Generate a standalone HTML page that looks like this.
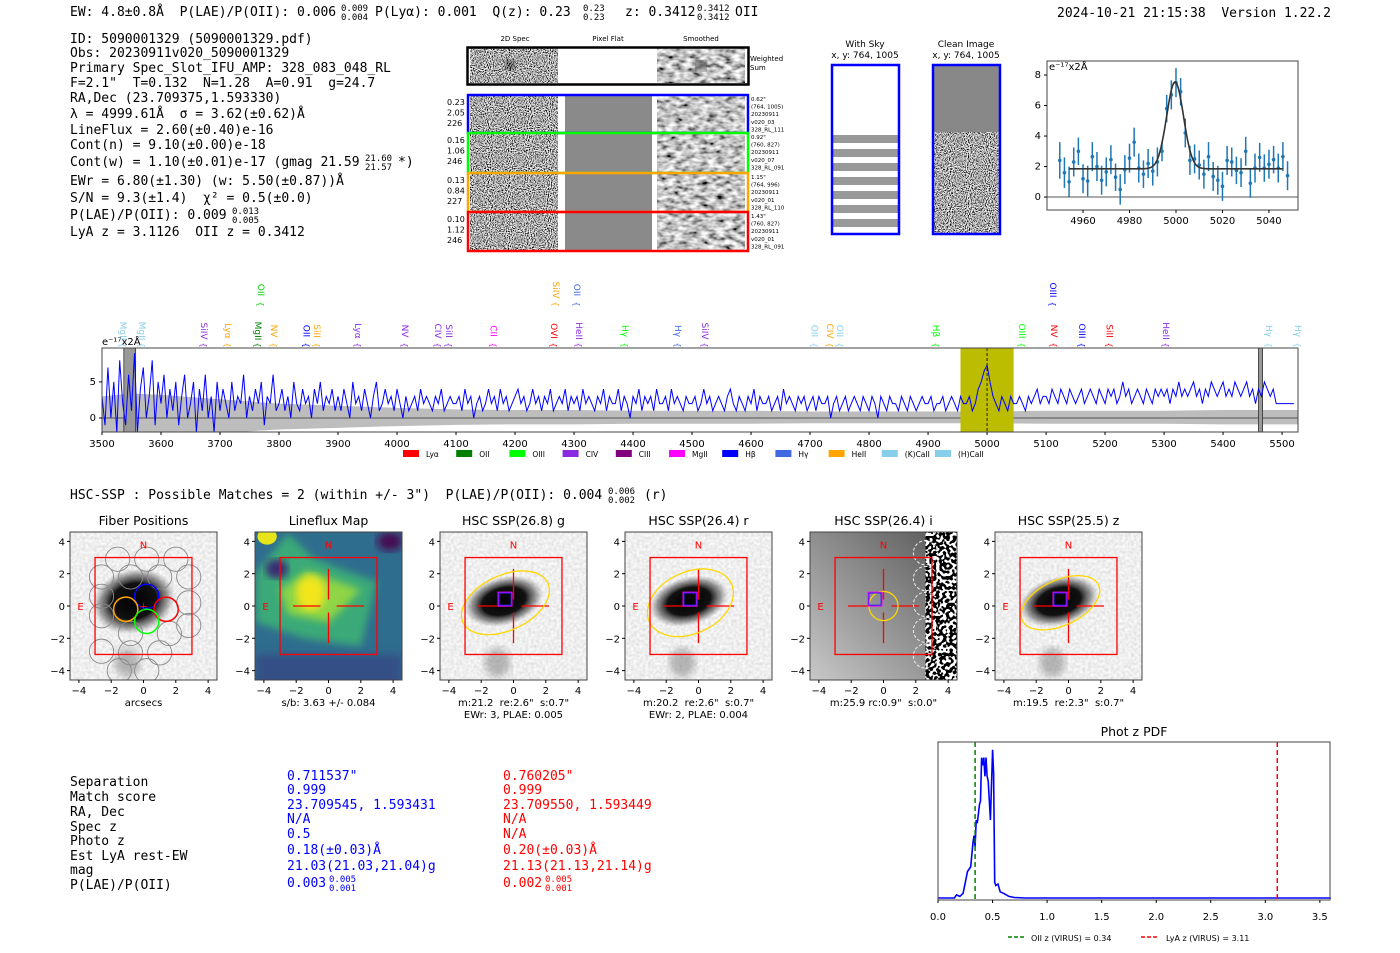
<!DOCTYPE html>
<html><head><meta charset="utf-8"><style>
html,body{margin:0;padding:0;background:#fff;width:1400px;height:953px;overflow:hidden}
svg{display:block}
text{white-space:pre}
.m{font-family:"DejaVu Sans Mono","Liberation Mono",monospace;font-size:13px;fill:#000}
.s{font-family:"DejaVu Sans","Liberation Sans",sans-serif}
.t{font-family:"DejaVu Sans","Liberation Sans",sans-serif;font-size:10px;fill:#000}
</style></head><body>
<svg id="page" width="1400" height="953" viewBox="0 0 1400 953" xmlns="http://www.w3.org/2000/svg" xml:space="preserve">
<defs>
<filter id="nz" x="0" y="0" width="1" height="1"><feTurbulence type="fractalNoise" baseFrequency="0.95" numOctaves="1" seed="3"/><feColorMatrix type="matrix" values="3.2 0 0 0 -1.15 3.2 0 0 0 -1.15 3.2 0 0 0 -1.15 0 0 0 0 1"/></filter>
<filter id="sm" x="0" y="0" width="1" height="1"><feTurbulence type="fractalNoise" baseFrequency="0.12 0.22" numOctaves="2" seed="7"/><feColorMatrix type="matrix" values="1.8 0 0 0 -0.35 1.8 0 0 0 -0.35 1.8 0 0 0 -0.35 0 0 0 0 1"/></filter>
<filter id="lt" x="0" y="0" width="1" height="1"><feTurbulence type="fractalNoise" baseFrequency="0.35" numOctaves="1" seed="5"/><feColorMatrix type="matrix" values="0.4 0 0 0 0.66 0.4 0 0 0 0.66 0.4 0 0 0 0.66 0 0 0 0 1"/></filter>
<filter id="bw" x="0" y="0" width="1" height="1"><feTurbulence type="fractalNoise" baseFrequency="0.3" numOctaves="1" seed="9"/><feColorMatrix type="matrix" values="20 0 0 0 -10 20 0 0 0 -10 20 0 0 0 -10 0 0 0 0 1"/></filter>
<filter id="bl"><feGaussianBlur stdDeviation="4"/></filter>
<radialGradient id="gal"><stop offset="0" stop-color="#000"/><stop offset="0.55" stop-color="#111"/><stop offset="0.8" stop-color="#555" stop-opacity="0.6"/><stop offset="1" stop-color="#888" stop-opacity="0"/></radialGradient>
<linearGradient id="igr" x1="0" y1="1" x2="1" y2="0"><stop offset="0" stop-color="#c8c8c8"/><stop offset="1" stop-color="#555"/></linearGradient>
</defs>

<g class="m">
<text x="70" y="16">EW: 4.8±0.8Å  P(LAE)/P(OII): 0.006</text>
<text x="341" y="11" font-size="9">0.009</text><text x="341" y="20" font-size="9">0.004</text>
<text x="375" y="16">P(Lyα): 0.001  Q(z): 0.23</text>
<text x="583" y="11" font-size="9">0.23</text><text x="583" y="20" font-size="9">0.23</text>
<text x="625" y="16">z: 0.3412</text>
<text x="697" y="11" font-size="9">0.3412</text><text x="697" y="20" font-size="9">0.3412</text>
<text x="735" y="16">OII</text>
</g>
<text class="m" x="1057" y="17">2024-10-21 21:15:38  Version 1.22.2</text>

<g class="m">
<text x="70" y="43">ID: 5090001329 (5090001329.pdf)</text>
<text x="70" y="57">Obs: 20230911v020_5090001329</text>
<text x="70" y="72">Primary Spec_Slot_IFU_AMP: 328_083_048_RL</text>
<text x="70" y="87">F=2.1"  T=0.132  N=1.28  A=0.91  g=24.7</text>
<text x="70" y="102">RA,Dec (23.709375,1.593330)</text>
<text x="70" y="118">λ = 4999.61Å  σ = 3.62(±0.62)Å</text>
<text x="70" y="134">LineFlux = 2.60(±0.40)e-16</text>
<text x="70" y="149">Cont(n) = 9.10(±0.00)e-18</text>
<text x="70" y="166">Cont(w) = 1.10(±0.01)e-17 (gmag 21.59</text>
<text x="365" y="161" font-size="9">21.60</text><text x="365" y="170" font-size="9">21.57</text>
<text x="398" y="166">*)</text>
<text x="70" y="185">EWr = 6.80(±1.30) (w: 5.50(±0.87))Å</text>
<text x="70" y="202">S/N = 9.3(±1.4)  χ² = 0.5(±0.0)</text>
<text x="70" y="219">P(LAE)/P(OII): 0.009</text>
<text x="232" y="214" font-size="9">0.013</text><text x="232" y="223" font-size="9">0.005</text>
<text x="70" y="236">LyA z = 3.1126  OII z = 0.3412</text>
</g>

<g>
<text class="s" font-size="7" x="515" y="41" text-anchor="middle">2D Spec</text>
<text class="s" font-size="7" x="608" y="41" text-anchor="middle">Pixel Flat</text>
<text class="s" font-size="7" x="701" y="41" text-anchor="middle">Smoothed</text>
<rect x="470" y="48" width="88" height="35" filter="url(#nz)"/>
<circle cx="510" cy="65" r="5" fill="#000" opacity="0.7" filter="url(#bl)"/>
<rect x="558" y="48" width="99" height="35" fill="#fff"/>
<rect x="657" y="48" width="88" height="35" filter="url(#sm)"/>
<circle cx="701" cy="66" r="5" fill="#000" opacity="0.8" filter="url(#bl)"/>
<rect x="467.5" y="47.5" width="281" height="37" fill="none" stroke="#000" stroke-width="2.5"/>
<text class="s" font-size="7" x="750" y="61">Weighted</text><text class="s" font-size="7" x="750" y="70">Sum</text>
</g>
<g id="fibrows"></g>

<g>
<text class="s" font-size="9" x="865" y="47" text-anchor="middle">With Sky</text>
<text class="s" font-size="9" x="865" y="58" text-anchor="middle">x, y: 764, 1005</text>
<rect x="832" y="65" width="67" height="169" fill="#fff"/>
<g id="skystripes"></g>
<rect x="832" y="65" width="67" height="169" fill="none" stroke="#00f" stroke-width="2.5"/>
</g>
<g>
<text class="s" font-size="9" x="966" y="47" text-anchor="middle">Clean Image</text>
<text class="s" font-size="9" x="966" y="58" text-anchor="middle">x, y: 764, 1005</text>
<rect x="933" y="65" width="67" height="67" fill="#888"/>
<rect x="933" y="132" width="67" height="102" filter="url(#nz)"/>
<rect x="933" y="65" width="67" height="169" fill="none" stroke="#00f" stroke-width="2.5"/>
</g>

<g id="fitplot"></g>
<g id="spec"></g>

<g class="m">
<text x="70" y="499">HSC-SSP : Possible Matches = 2 (within +/- 3")  P(LAE)/P(OII): 0.004</text>
<text x="608" y="494" style="font-size:9px">0.006</text><text x="608" y="503" style="font-size:9px">0.002</text>
<text x="644" y="499">(r)</text>
</g>

<g id="cutouts"></g>

<g class="m">
<text x="70" y="786">Separation</text><text x="70" y="801">Match score</text><text x="70" y="816">RA, Dec</text><text x="70" y="831">Spec z</text><text x="70" y="845">Photo z</text><text x="70" y="860">Est LyA rest-EW</text><text x="70" y="874">mag</text><text x="70" y="889">P(LAE)/P(OII)</text>
</g>
<g class="m">
<text x="287" y="780" fill="#00f">0.711537"</text><text x="287" y="794" fill="#00f">0.999</text><text x="287" y="809" fill="#00f">23.709545, 1.593431</text><text x="287" y="823" fill="#00f">N/A</text><text x="287" y="838" fill="#00f">0.5</text><text x="287" y="854" fill="#00f">0.18(±0.03)Å</text><text x="287" y="870" fill="#00f">21.03(21.03,21.04)g</text><text x="287" y="887" fill="#00f">0.003</text><text x="329" y="882" font-size="9" fill="#00f">0.005</text><text x="329" y="891" font-size="9" fill="#00f">0.001</text>
</g>
<g class="m">
<text x="503" y="780" fill="#f00">0.760205"</text><text x="503" y="794" fill="#f00">0.999</text><text x="503" y="809" fill="#f00">23.709550, 1.593449</text><text x="503" y="823" fill="#f00">N/A</text><text x="503" y="838" fill="#f00">N/A</text><text x="503" y="854" fill="#f00">0.20(±0.03)Å</text><text x="503" y="870" fill="#f00">21.13(21.13,21.14)g</text><text x="503" y="887" fill="#f00">0.002</text><text x="545" y="882" font-size="9" fill="#f00">0.005</text><text x="545" y="891" font-size="9" fill="#f00">0.001</text>
</g>

<g id="pdf"></g>
</svg>
<script>
const fitWave = [4950,4952,4954,4956,4958,4960,4962,4964,4966,4968,4970,4972,4974,4976,4978,4980,4982,4984,4986,4988,4990,4992,4994,4996,4998,5000,5002,5004,5006,5008,5010,5012,5014,5016,5018,5020,5022,5024,5026,5028,5030,5032,5034,5036,5038,5040,5042,5044,5046,5048];
const fitFlux = [2.4,1.6,1.0,2.3,3.0,1.2,1.05,2.65,2.0,1.1,1.65,2.45,1.3,0.5,1.8,2.55,3.6,1.9,1.5,2.2,1.7,2.3,3.0,5.8,6.7,7.5,6.9,4.2,2.4,2.5,2.1,1.5,2.65,1.35,1.1,0.7,2.4,2.3,1.75,1.6,3.0,0.9,1.9,2.6,1.9,2.15,2.45,1.9,2.65,1.4];
const fitErr = [1.2,1.0,1.0,0.95,0.9,0.95,1.0,0.95,0.95,0.95,0.95,0.95,0.9,1.0,0.95,0.95,0.95,0.95,0.9,0.95,0.95,0.95,0.65,0.9,0.95,0.95,0.9,0.95,0.95,0.95,0.95,0.95,0.95,0.95,0.95,0.95,0.95,0.95,0.9,0.95,0.95,0.95,0.95,0.95,0.9,0.95,0.9,0.95,0.95,0.95];
const fitModel = {center:4999.61, sigma:3.62, amp:5.7, cont:1.85, from:4954, to:5046};
const fitXTicks = [4960,4980,5000,5020,5040];
const fitYTicks = [0,2,4,6,8];

const specStart = 3500, specStep = 5;
const specFlux = [3,-1,7,0,5,-2,8,2,-1,6,1,9,-2,4,7,0,3,8,-1,5,
2,6,0,4,1,5,-1,3,6,0,2,5,-2,4,1,6,0,3,-2,5,
1,4,2,0,5,1,3,2,6,0,3,1,4,2,5,-1,3,2,6,1,
2,4,1,3,0,5,2,1,4,2,3,0,4,2,5,1,3,2,4,1,
3,1,4,2,0,5,2,3,1,4,2,0,3,5,1,2,4,2,3,1,
4,2,0,3,1,2,3,1,4,2,3,2,1,3,2,4,1,2,3,2,
2,3,1,4,2,3,0,2,3,1,2,4,2,3,1,4,2,3,1,2,
3,4,2,3,1,2,4,2,3,1,3,2,4,1,2,3,2,4,1,3,
2,3,1,4,2,3,2,1,3,2,4,1,3,2,2,4,1,3,2,0,
3,2,4,1,3,2,3,1,4,2,2,3,1,4,2,3,2,1,3,2,
2,3,1,2,4,2,3,1,2,3,2,1,3,4,2,1,3,2,1,3,
2,4,1,3,2,2,3,1,2,3,1,4,2,3,2,1,3,2,3,1,
2,3,1,3,2,2,3,0,2,3,1,2,3,1,2,3,2,1,3,2,
1,3,2,0,3,2,1,3,2,2,1,3,2,1,3,2,1,2,3,2,
2,3,1,2,2,3,1,2,3,2,1,3,2,2,3,1,2,4,5,6.5,
7.3,5,3,2,1,3,2,1,3,2,2,3,2,1,3,2,3,4,2,3,
3,2,4,3,2,4,3,2,4,3,2,3,4,2,3,4,3,2,4,3,
2,4,3,4,2,3,5,3,4,2,3,4,3,2,4,3,2,4,3,4,
3,4,2,4,3,5,3,4,3,4,5,3,4,2,4,3,5,4,3,4,
5,3,4,3,5,4,3,4,5,3,4,2,4,3,5,4,3,4,2,2,
2,2,2,2,2];
const bandWave = [3500,3550,3600,3700,3800,3900,4000,4100,4200,4300,4400,4500,4600,4700,4800,4900,5000,5100,5200,5300,5400,5500,5527];
const bandHi = [3.0,3.4,3.2,2.6,2.0,1.7,1.4,1.2,1.1,1.1,1.0,1.0,1.0,0.9,0.9,0.9,0.9,1.0,1.0,1.0,1.1,1.1,1.1];
const specXTicks = [3500,3600,3700,3800,3900,4000,4100,4200,4300,4400,4500,4600,4700,4800,4900,5000,5100,5200,5300,5400,5500];
const specYTicks = [0,5];
const lineWave = [3525,3558,3663,3703,3754,3781,3836,3854,3924,4003,4059,4078,4153,4256,4298,4376,4466,4512,4697,4724,4741,4903,5049,5103,5151,5197,5293,5468,5517,3759,4259,4295,5102];
const lineName = ['MgII','MgII','SiIV','Lyα','MgII','NV','OII','SiII','Lyα','NV','CIV','SiII','CII','OVI','HeII','Hγ','Hγ','SiIV','OII','CIV','OII','Hβ','OIII','NV','OIII','SiII','HeII','Hγ','Hγ','OII','SiIV','OII','OIII'];
const lineColor = ['#87ceeb','#87ceeb','#8a2be2','#ffa500','#008000','#ffa500','#0000ff','#ffa500','#8a2be2','#8a2be2','#8a2be2','#8a2be2','#ff00ff','#ff0000','#8a2be2','#00ff00','#4169e1','#8a2be2','#87ceeb','#ffa500','#87ceeb','#00ff00','#00ff00','#ff0000','#0000ff','#ff0000','#8a2be2','#87ceeb','#87ceeb','#00cc00','#ffa500','#4169e1','#0000ff'];
const lineRow = [0,0,0,0,0,0,0,0,0,0,0,0,0,0,0,0,0,0,0,0,0,0,0,0,0,0,0,0,0,1,1,1,1];
const legName = ['Lyα','OII','OIII','CIV','CIII','MgII','Hβ','Hγ','HeII','(K)CaII','(H)CaII'];
const legColor = ['#ff0000','#008000','#00ff00','#8a2be2','#800080','#ff00ff','#0000ff','#4169e1','#ffa500','#87ceeb','#87ceeb'];

const pdfZ = [0,0.15,0.17,0.2,0.23,0.25,0.27,0.3,0.32,0.33,0.34,0.35,0.36,0.38,0.39,0.4,0.41,0.42,0.43,0.44,0.45,0.46,0.48,0.5,0.51,0.52,0.53,0.55,0.57,0.6,0.65,0.7,0.8,3.6];
const pdfP = [0,0,0.02,0.01,0.03,0.1,0.17,0.2,0.35,0.4,0.33,0.5,0.48,0.6,0.62,0.9,0.85,0.9,0.78,0.9,0.78,0.75,0.5,0.95,0.8,0.1,0.08,0.09,0.04,0.03,0.01,0.003,0,0];
const pdfXTicks = [0.0,0.5,1.0,1.5,2.0,2.5,3.0,3.5];
const pdfLines = [0.34,3.11];

const cutTitle = ['Fiber Positions','Lineflux Map','HSC SSP(26.8) g','HSC SSP(26.4) r','HSC SSP(26.4) i','HSC SSP(25.5) z'];
const cutLabel1 = ['arcsecs','s/b: 3.63 +/- 0.084','m:21.2  re:2.6"  s:0.7"','m:20.2  re:2.6"  s:0.7"','m:25.9 rc:0.9"  s:0.0"','m:19.5  re:2.3"  s:0.7"'];
const cutLabel2 = ['','','EWr: 3, PLAE: 0.005','EWr: 2, PLAE: 0.004','',''];
const cutTicks = [-4,-2,0,2,4];

const NS='http://www.w3.org/2000/svg';
function mk(tag, attrs, parent){const e=document.createElementNS(NS,tag);for(const k in attrs)e.setAttribute(k,attrs[k]);parent.appendChild(e);return e;}
function txt(s, attrs, parent){const e=mk('text',attrs,parent);e.textContent=s;return e;}

(function(){
  const g=document.getElementById('fibrows');
  const tops=[95,133,173,212], hs=[38,40,39,39], cols=['#0000ff','#00ff00','#ffa500','#ff0000'];
  const L=[['0.23','2.05','226'],['0.16','1.06','246'],['0.13','0.84','227'],['0.10','1.12','246']];
  const R=[['0.62"','(764, 1005)','20230911','v020_03','328_RL_111'],['0.92"','(760, 827)','20230911','v020_07','328_RL_091'],['1.15"','(764, 996)','20230911','v020_01','328_RL_110'],['1.43"','(760, 827)','20230911','v020_01','328_RL_091']];
  for(let i=0;i<4;i++){
    const y=tops[i],h=hs[i];
    const row=mk('g',{},g);
    
    
    mk('rect',{x:470,y:y+1,width:88,height:h-2,filter:'url(#nz)'},row);
    mk('rect',{x:565,y:y+1,width:87,height:h-2,fill:'#8a8a8a'},row);
    mk('rect',{x:657,y:y+1,width:88,height:h-2,filter:'url(#sm)'},row);
    mk('rect',{x:468,y:y,width:280,height:h,fill:'none',stroke:cols[i],'stroke-width':2.5},row);
    L[i].forEach((s,j)=>txt(s,{x:447,y:y+10+j*10.5,'font-size':8,class:'s'},row));
    R[i].forEach((s,j)=>txt(s,{x:751,y:y+6+j*7.6,'font-size':5.5,class:'s'},row));
  }
  const sk=document.getElementById('skystripes');
  for(let k=0;k<7;k++){
    const st=mk('rect',{x:833,y:135+k*14,width:65,height:8,fill:'#777',opacity:0.75},sk);
    
    
  }
})();

(function(){
  const g=document.getElementById('fitplot');
  const X0=1047,X1=1298,Y0=61,Y1=210, xmin=4944.5,xmax=5052.5,ymin=-0.85,ymax=8.92;
  const sx=v=>X0+(v-xmin)/(xmax-xmin)*(X1-X0), sy=v=>Y1-(v-ymin)/(ymax-ymin)*(Y1-Y0);
  mk('line',{x1:X0,x2:X1,y1:sy(0),y2:sy(0),stroke:'#555','stroke-width':1},g);
  fitWave.forEach((w,i)=>{
    const eb=mk('line',{x1:sx(w),x2:sx(w),y1:sy(fitFlux[i]-fitErr[i]),y2:sy(fitFlux[i]+fitErr[i]),stroke:'#1f77b4','stroke-width':1.5},g);
    
    
    const p=mk('circle',{cx:sx(w),cy:sy(fitFlux[i]),r:1.8,fill:'#1f77b4'},g);
    
    
  });
  let d='';
  for(let w=fitModel.from;w<=fitModel.to;w+=0.5){const v=fitModel.cont+fitModel.amp*Math.exp(-0.5*Math.pow((w-fitModel.center)/fitModel.sigma,2));d+=(d?'L':'M')+sx(w).toFixed(1)+','+sy(v).toFixed(1);}
  const m=mk('path',{d:d,fill:'none',stroke:'#333','stroke-width':1.6},g);
  
  
  mk('rect',{x:X0,y:Y0,width:X1-X0,height:Y1-Y0,fill:'none',stroke:'#444','stroke-width':1},g);
  fitXTicks.forEach(t=>{mk('line',{x1:sx(t),x2:sx(t),y1:Y1,y2:Y1+3,stroke:'#000'},g);txt(t,{x:sx(t),y:Y1+14,'text-anchor':'middle',class:'t','font-size':9},g);});
  fitYTicks.forEach(t=>{mk('line',{x1:X0-3,x2:X0,y1:sy(t),y2:sy(t),stroke:'#000'},g);txt(t,{x:X0-6,y:sy(t)+3,'text-anchor':'end',class:'t','font-size':9},g);});
  txt('e⁻¹⁷x2Å',{x:X0+2,y:Y0+9,class:'t','font-size':9},g);
})();

(function(){
  const g=document.getElementById('spec');
  const X0=102,X1=1298,Y0=348,Y1=432,xmin=3500,xmax=5527,ymin=-1.94,ymax=9.7;
  const sx=v=>X0+(v-xmin)/(xmax-xmin)*(X1-X0), sy=v=>Y1-(v-ymin)/(ymax-ymin)*(Y1-Y0);
  const cl=mk('clipPath',{id:'spc'},g); mk('rect',{x:X0,y:Y0,width:X1-X0,height:Y1-Y0},cl);
  const inner=mk('g',{'clip-path':'url(#spc)'},g);
  let d='M'+sx(bandWave[0])+','+sy(bandHi[0]);
  bandWave.forEach((w,i)=>d+='L'+sx(w)+','+sy(bandHi[i]));
  for(let i=bandWave.length-1;i>=0;i--)d+='L'+sx(bandWave[i])+','+sy(-bandHi[i]*0.8);
  const band=mk('path',{d:d+'Z',fill:'#bdbdbd'},inner);
  
  
  mk('line',{x1:X0,x2:X1,y1:sy(0),y2:sy(0),stroke:'#888','stroke-width':2},inner);
  const hl=mk('rect',{x:sx(4955),y:Y0,width:sx(5045)-sx(4955),height:Y1-Y0,fill:'#bcbc00'},inner);
  
  
  [[3537,3557],[5460,5467]].forEach(r=>{const b=mk('rect',{x:sx(r[0]),y:Y0,width:sx(r[1])-sx(r[0]),height:Y1-Y0,fill:'#999',stroke:'#333','stroke-width':0.8},inner);});
  let p='';
  specFlux.forEach((v,i)=>{p+=(i?'L':'M')+sx(specStart+i*specStep).toFixed(1)+','+sy(v).toFixed(1);});
  const sl=mk('path',{d:p,fill:'none',stroke:'#0000ff','stroke-width':1},inner);
  
  
  mk('line',{x1:sx(5000),x2:sx(5000),y1:Y0,y2:Y1,stroke:'#000','stroke-dasharray':'3,2','stroke-width':0.8},inner);
  mk('rect',{x:X0,y:Y0,width:X1-X0,height:Y1-Y0,fill:'none',stroke:'#444'},g);
  specXTicks.forEach(t=>{mk('line',{x1:sx(t),x2:sx(t),y1:Y1,y2:Y1+3,stroke:'#000'},g);txt(t,{x:sx(t),y:Y1+15,'text-anchor':'middle',class:'t','font-size':9},g);});
  specYTicks.forEach(t=>{mk('line',{x1:X0-3,x2:X0,y1:sy(t),y2:sy(t),stroke:'#000'},g);txt(t,{x:X0-6,y:sy(t)+3,'text-anchor':'end',class:'t','font-size':9},g);});
  txt('e⁻¹⁷x2Å',{x:X0,y:Y0-3,class:'t','font-size':9},g);
  lineWave.forEach((w,i)=>{
    const cy=lineRow[i]?290:331;
    const t=txt(lineName[i],{x:0,y:0,'text-anchor':'middle',class:'s','font-size':9,fill:lineColor[i],transform:'translate('+(sx(w)+3)+','+cy+') rotate(90)'},g);
    
    
    txt('{',{x:0,y:0,'text-anchor':'middle',class:'s','font-size':8,fill:lineColor[i],transform:'translate('+(sx(w)+3)+','+(cy+14)+') rotate(90)'},g);
  });
  legName.forEach((n,i)=>{
    const x=403+i*53.2;
    const lg=mk('g',{},g);
    
    
    mk('rect',{x:x,y:450,width:16,height:7,fill:legColor[i]},lg);
    txt(n,{x:x+23,y:457,class:'s','font-size':7.5},lg);
  });
})();

(function(){
  const root=document.getElementById('cutouts');
  const lefts=[70,255,440,625,810,995], top=532, W=147, H=148;
  lefts.forEach((L,k)=>{
    const g=mk('g',{},root);
    
    
    const cx=L+W/2, cy=top+H/2, u=W/9.1;
    const X=v=>cx+v*u, Y=v=>cy-v*u;
    const cp=mk('clipPath',{id:'cc'+k},g); mk('rect',{x:L,y:top,width:W,height:H},cp);
    const im=mk('g',{'clip-path':'url(#cc'+k+')'},g);
    if(k==1){
      mk('rect',{x:L,y:top,width:W,height:H,fill:'#2f6d8e'},im);
      mk('polygon',{points:X(-4.5)+','+Y(2)+' '+X(-2.5)+','+Y(4.5)+' '+X(-1)+','+Y(3)+' '+X(0.5)+','+Y(2.4)+' '+X(3)+','+Y(1.5)+' '+X(2)+','+Y(-2.5)+' '+X(-1.5)+','+Y(-2)+' '+X(-4.5)+','+Y(-1),fill:'#3aaa78',filter:'url(#bl)'},im);
      mk('polygon',{points:X(-3)+','+Y(1)+' '+X(-1.3)+','+Y(2.2)+' '+X(2)+','+Y(1)+' '+X(0)+','+Y(-1)+' '+X(-2.5)+','+Y(-0.5),fill:'#8fd544',filter:'url(#bl)'},im);
      mk('ellipse',{cx:X(-1.1),cy:Y(0.8),rx:u*0.9,ry:u*1.1,fill:'#f2e51d',filter:'url(#bl)'},im);
      mk('ellipse',{cx:X(-3.8),cy:Y(4.3),rx:u*0.6,ry:u*0.5,fill:'#e8e41a'},im);
      mk('ellipse',{cx:X(3.8),cy:Y(4),rx:u*0.8,ry:u*0.6,fill:'#440c54',filter:'url(#bl)'},im);
      mk('ellipse',{cx:X(-3.2),cy:Y(2.3),rx:u*0.7,ry:u*0.6,fill:'#3b2b74',filter:'url(#bl)'},im);
      mk('rect',{x:L,y:Y(-3),width:W,height:H,fill:'#39377f',opacity:0.55,filter:'url(#bl)'},im);
    } else if(k==4){
      mk('rect',{x:L,y:top,width:W,height:H,fill:'url(#igr)'},im);
      mk('rect',{x:X(2.6),y:top,width:W,height:H,filter:'url(#bw)'},im);
    } else {
      mk('rect',{x:L,y:top,width:W,height:H,filter:'url(#lt)'},im);
      mk('ellipse',{cx:X(-0.6),cy:Y(0.3),rx:u*(k==0?2.6:2.5),ry:u*(k==0?2.0:1.5),fill:'url(#gal)',transform:'rotate(-15 '+X(-0.6)+' '+Y(0.3)+')'},im);
      mk('ellipse',{cx:X(-1),cy:Y(-3.5),rx:u*0.8,ry:u*0.9,fill:'#777',opacity:0.5,filter:'url(#bl)'},im);
    }
    if(k==0){
      const fx=[-1.6,0.2,2.0,-2.6,-0.8,1.0,2.8,-2.6,1.4,2.8,-2.6,-0.8,1.6,2.8,-2.6,-0.8,1.0,-1.5,0.2];
      const fy=[2.9,2.9,2.9,1.8,1.8,1.8,1.8,0.6,-0.2,0.2,-0.6,-1.7,-1.7,-1.2,-2.8,-2.9,-2.9,-4.0,-4.0];
      fx.forEach((x,i)=>{const c=mk('circle',{cx:X(x),cy:Y(fy[i]),r:u*0.75,fill:'none',stroke:'#888','stroke-width':0.9},im);});
      [[0.2,0.6,'#0000ff'],[-1.1,-0.2,'#ffa500'],[1.4,-0.2,'#ff0000'],[0.2,-0.95,'#00ff00']].forEach(f=>{const c=mk('circle',{cx:X(f[0]),cy:Y(f[1]),r:u*0.75,fill:'none',stroke:f[2],'stroke-width':1.5},im);});
      txt('+',{x:X(0),y:Y(0)+4,'text-anchor':'middle',fill:'#f00',class:'s','font-size':11},im);
    }
    if(k>=1){
      [[-2.2,0,-0.5,0],[0.5,0,2.2,0],[0,2.3,0,0.4],[0,-0.4,0,-2.3]].forEach(s=>mk('line',{x1:X(s[0]),y1:Y(s[1]),x2:X(s[2]),y2:Y(s[3]),stroke:'#f00','stroke-width':1.3},im));
    }
    if(k==2||k==3||k==5){
      const rx=[0,0,2.9,2.8,0,2.6][k], ry=[0,0,1.7,1.9,0,1.4][k];
      mk('ellipse',{cx:X(-0.5),cy:Y(0.2),rx:u*rx,ry:u*ry,fill:'none',stroke:'#ffd700','stroke-width':1.3,transform:'rotate(-25 '+X(-0.5)+' '+Y(0.2)+')'},im);
    }
    if(k==4){
      mk('circle',{cx:X(0),cy:Y(0),r:u*0.9,fill:'none',stroke:'#ffd700','stroke-width':1.3},im);
      for(let j=0;j<5;j++)mk('circle',{cx:X(2.6),cy:Y(3.3-j*1.6),r:u*0.75,fill:'none',stroke:'#eee','stroke-dasharray':'3,2'},im);
    }
    if(k>=2){
      mk('rect',{x:X(-0.95),y:Y(0.85),width:u*0.85,height:u*0.85,fill:'none',stroke:'#f0f','stroke-width':1.2},im);
      mk('rect',{x:X(-0.9),y:Y(0.8),width:u*0.75,height:u*0.75,fill:'none',stroke:'#22f','stroke-width':1},im);
    }
    mk('rect',{x:X(-3),y:Y(3),width:u*6,height:u*6,fill:'none',stroke:'#f00','stroke-width':1.3},im);
    txt('N',{x:X(0),y:Y(3.8)+4,'text-anchor':'middle',fill:'#f00',class:'s','font-size':10},im);
    txt('E',{x:X(-3.9),y:Y(0)+4,'text-anchor':'middle',fill:'#f00',class:'s','font-size':10},im);
    mk('rect',{x:L,y:top,width:W,height:H,fill:'none',stroke:'#444'},g);
    cutTicks.forEach(t=>{
      mk('line',{x1:X(t),x2:X(t),y1:top+H,y2:top+H+3,stroke:'#000'},g);
      txt(t<0?'−'+(-t):t,{x:X(t),y:top+H+14,'text-anchor':'middle',class:'t'},g);
      mk('line',{x1:L-3,x2:L,y1:Y(t),y2:Y(t),stroke:'#000'},g);
      txt(t<0?'−'+(-t):t,{x:L-5,y:Y(t)+4,'text-anchor':'end',class:'t'},g);
    });
    const tt=txt(cutTitle[k],{x:cx,y:top-7,'text-anchor':'middle',class:'s','font-size':12.5},g);
    
    
    txt(cutLabel1[k],{x:cx,y:top+H+26,'text-anchor':'middle',class:'t'},g);
    if(cutLabel2[k])txt(cutLabel2[k],{x:cx,y:top+H+38,'text-anchor':'middle',class:'t'},g);
  });
})();

(function(){
  const g=document.getElementById('pdf');
  const X0=938,X1=1330,Y0=742,Y1=900,xmin=0,xmax=3.593;
  const sx=v=>X0+(v-xmin)/(xmax-xmin)*(X1-X0), sy=v=>898-v*156;
  let d='';
  pdfZ.forEach((z,i)=>d+=(i?'L':'M')+sx(z).toFixed(1)+','+sy(pdfP[i]).toFixed(1));
  const c=mk('path',{d:d,fill:'none',stroke:'#0000ff','stroke-width':1.6},g);
  
  
  const l1=mk('line',{x1:sx(pdfLines[0]),x2:sx(pdfLines[0]),y1:Y0,y2:Y1,stroke:'#008000','stroke-width':1.5,'stroke-dasharray':'5,3'},g);
  
  
  const l2=mk('line',{x1:sx(pdfLines[1]),x2:sx(pdfLines[1]),y1:Y0,y2:Y1,stroke:'#ff0000','stroke-width':1.5,'stroke-dasharray':'5,3'},g);
  
  
  mk('rect',{x:X0,y:Y0,width:X1-X0,height:Y1-Y0,fill:'none',stroke:'#444'},g);
  pdfXTicks.forEach(t=>{mk('line',{x1:sx(t),x2:sx(t),y1:Y1,y2:Y1+3,stroke:'#000'},g);txt(t.toFixed(1),{x:sx(t),y:Y1+20,'text-anchor':'middle',class:'t'},g);});
  txt('Phot z PDF',{x:1134,y:736,'text-anchor':'middle',class:'s','font-size':12.5},g);
  mk('line',{x1:1008,x2:1024,y1:937,y2:937,stroke:'#008000','stroke-width':1.5,'stroke-dasharray':'4,2'},g);
  txt('OII z (VIRUS) = 0.34',{x:1031,y:941,class:'s','font-size':8},g);
  mk('line',{x1:1141,x2:1157,y1:937,y2:937,stroke:'#ff0000','stroke-width':1.5,'stroke-dasharray':'4,2'},g);
  txt('LyA z (VIRUS) = 3.11',{x:1166,y:941,class:'s','font-size':8},g);
})();
</script>
</body></html>
